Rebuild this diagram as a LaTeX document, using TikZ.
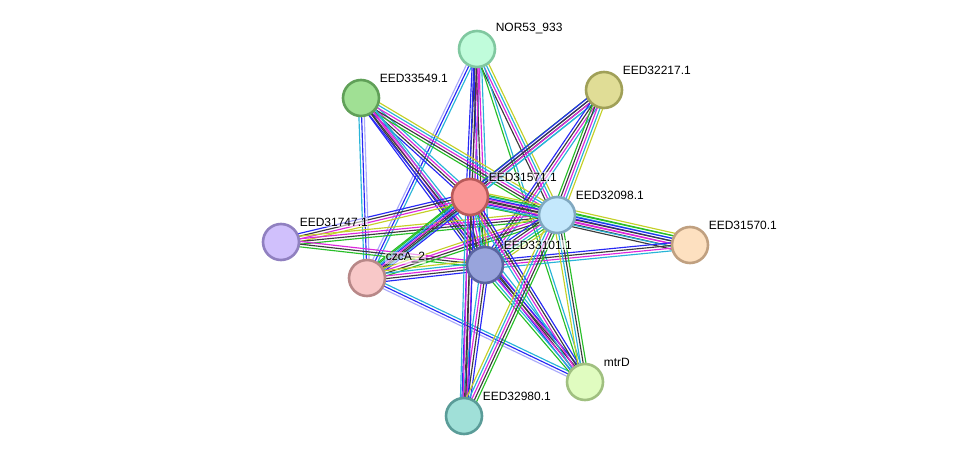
\documentclass[tikz,border=0pt]{standalone}
\usepackage{fontspec}
\setmainfont{Liberation Sans}
\usetikzlibrary{calc, backgrounds}

\definecolor{evgreen}{RGB}{40,190,40}
\definecolor{evblue}{RGB}{40,40,245}
\definecolor{evblack}{RGB}{60,60,60}
\definecolor{evmag}{RGB}{220,40,220}
\definecolor{evcyan}{RGB}{40,180,215}
\definecolor{evyel}{RGB}{196,208,40}
\definecolor{evlav}{RGB}{170,170,250}

% one edge = parallel lines, one per evidence colour
\newcommand{\evline}[3]{%
  \foreach \col [count=\n] in {#3} {\xdef\evn{\n}}%
  \foreach \col [count=\i] in {#3} {%
    \pgfmathsetmacro\evoff{(\i-(\evn+1)/2)*2.7}%
    \draw[ev, draw=\col] ($(#1.center)!\evoff pt!90:(#2.center)$) -- ($(#2.center)!\evoff pt!-90:(#1.center)$);
  }%
}

\begin{document}
\begin{tikzpicture}[x=1pt, y=-1pt,
  prot/.style={circle, minimum size=36pt, inner sep=0pt, line width=2.6pt},
  lbl/.style={anchor=west, inner sep=0.6pt, fill=white, fill opacity=0.55, text opacity=1, font=\fontsize{12}{14}\selectfont},
  ev/.style={line width=1.15pt}
]
\useasboundingbox (0,0) rectangle (976,462);

\node[prot, fill={rgb,255:red,192;green,252;blue,219}, draw={rgb,255:red,128;green,200;blue,160}] (nor) at (477,49) {};
\node[prot, fill={rgb,255:red,160;green,224;blue,148}, draw={rgb,255:red,96;green,160;blue,88}] (e3549) at (361,98) {};
\node[prot, fill={rgb,255:red,224;green,221;blue,150}, draw={rgb,255:red,160;green,160;blue,88}] (e2217) at (604,90) {};
\node[prot, fill={rgb,255:red,250;green,150;blue,150}, draw={rgb,255:red,184;green,90;blue,90}] (e1571) at (470,197) {};
\node[prot, fill={rgb,255:red,196;green,232;blue,252}, draw={rgb,255:red,128;green,168;blue,192}] (e2098) at (557,215) {};
\node[prot, fill={rgb,255:red,208;green,192;blue,252}, draw={rgb,255:red,144;green,128;blue,192}] (e1747) at (281,242) {};
\node[prot, fill={rgb,255:red,253;green,224;blue,192}, draw={rgb,255:red,192;green,160;blue,128}] (e1570) at (690,245) {};
\node[prot, fill={rgb,255:red,248;green,200;blue,200}, draw={rgb,255:red,184;green,136;blue,136}] (czc) at (367,278) {};
\node[prot, fill={rgb,255:red,152;green,164;blue,220}, draw={rgb,255:red,90;green,100;blue,160}] (e3101) at (485,265) {};
\node[prot, fill={rgb,255:red,224;green,252;blue,192}, draw={rgb,255:red,160;green,192;blue,128}] (mtr) at (585,382) {};
\node[prot, fill={rgb,255:red,160;green,224;blue,216}, draw={rgb,255:red,90;green,156;blue,152}] (e2980) at (464,416) {};

\begin{scope}[on background layer]
\evline{nor}{czc}{evlav,evblue,evcyan}
\evline{nor}{e1571}{evblue,evblack,evmag,evcyan}
\evline{nor}{e3101}{evblue,evblack,evmag,evcyan}
\evline{nor}{e2980}{evblue,evblack,evmag}
\evline{nor}{e2098}{evblack,evmag,evcyan,evyel}
\evline{nor}{mtr}{evgreen,evcyan}
\evline{e3549}{czc}{evcyan,evblue,evlav}
\evline{e3549}{e1571}{evblue,evblack,evmag,evcyan}
\evline{e3549}{e2098}{evgreen,evblack,evmag,evcyan,evyel}
\evline{e3549}{e3101}{evblue,evblack,evmag,evcyan}
\evline{e3549}{mtr}{evblue,evblack,evmag,evcyan}
\evline{e2217}{czc}{evgreen,evblue,evblack,evcyan}
\evline{e2217}{e1571}{evblue,evblack,evmag,evcyan}
\evline{e2217}{e3101}{evblue,evblack,evmag,evcyan}
\evline{e2217}{e2098}{evgreen,evblack,evmag,evcyan,evyel}
\evline{e1747}{e1571}{evyel,evmag,evblack,evblue}
\evline{e1747}{e2098}{evgreen,evblack,evmag,evyel}
\evline{e1747}{e3101}{evgreen,evblack,evmag}
\evline{czc}{e1571}{evblue,evblack,evmag,evcyan,evgreen}
\evline{czc}{e2098}{evgreen,evblack,evmag,evyel}
\evline{czc}{e3101}{evblue,evblack,evmag,evcyan,evyel}
\evline{czc}{mtr}{evlav,evblue,evcyan}
\evline{e1571}{e2098}{evgreen,evblue,evblack,evmag,evcyan,evyel}
\evline{e1571}{e3101}{evblue,evblack,evmag,evcyan,evgreen,evyel}
\evline{e2098}{e3101}{evblue,evblack,evmag,evcyan,evgreen,evyel}
\evline{e1570}{e2098}{evyel,evgreen,evcyan,evblue,evmag,evblack,evblack}
\evline{e1570}{e1571}{evgreen,evblue,evblack,evmag,evcyan}
\evline{e1570}{e3101}{evblue,evblack,evmag,evcyan}
\evline{mtr}{e3101}{evblue,evblack,evmag,evcyan,evgreen}
\evline{mtr}{e1571}{evblue,evblack,evmag,evcyan}
\evline{mtr}{e2098}{evgreen,evblack,evcyan,evyel}
\evline{e2980}{e3101}{evblue,evblack,evmag,evcyan}
\evline{e2980}{e1571}{evblue,evblack,evmag,evcyan}
\evline{e2980}{e2098}{evgreen,evblack,evmag,evcyan,evyel}
\end{scope}

\node[lbl] (nor-l) at ([shift={(18,-20)}]nor.center) {NOR53\_933};
\node[lbl] (e3549-l) at ([shift={(18,-20)}]e3549.center) {EED33549.1};
\node[lbl] (e2217-l) at ([shift={(18,-20)}]e2217.center) {EED32217.1};
\node[lbl] (e1571-l) at ([shift={(18,-20)}]e1571.center) {EED31571.1};
\node[lbl] (e2098-l) at ([shift={(18,-20)}]e2098.center) {EED32098.1};
\node[lbl] (e1747-l) at ([shift={(18,-20)}]e1747.center) {EED31747.1};
\node[lbl] (e1570-l) at ([shift={(18,-20)}]e1570.center) {EED31570.1};
\node[lbl] (czc-l) at ([shift={(18,-20)}]czc.center) {czcA\_2};
\node[lbl] (e3101-l) at ([shift={(18,-20)}]e3101.center) {EED33101.1};
\node[lbl] (mtr-l) at ([shift={(18,-20)}]mtr.center) {mtrD};
\node[lbl] (e2980-l) at ([shift={(18,-20)}]e2980.center) {EED32980.1};
\end{tikzpicture}
\end{document}
